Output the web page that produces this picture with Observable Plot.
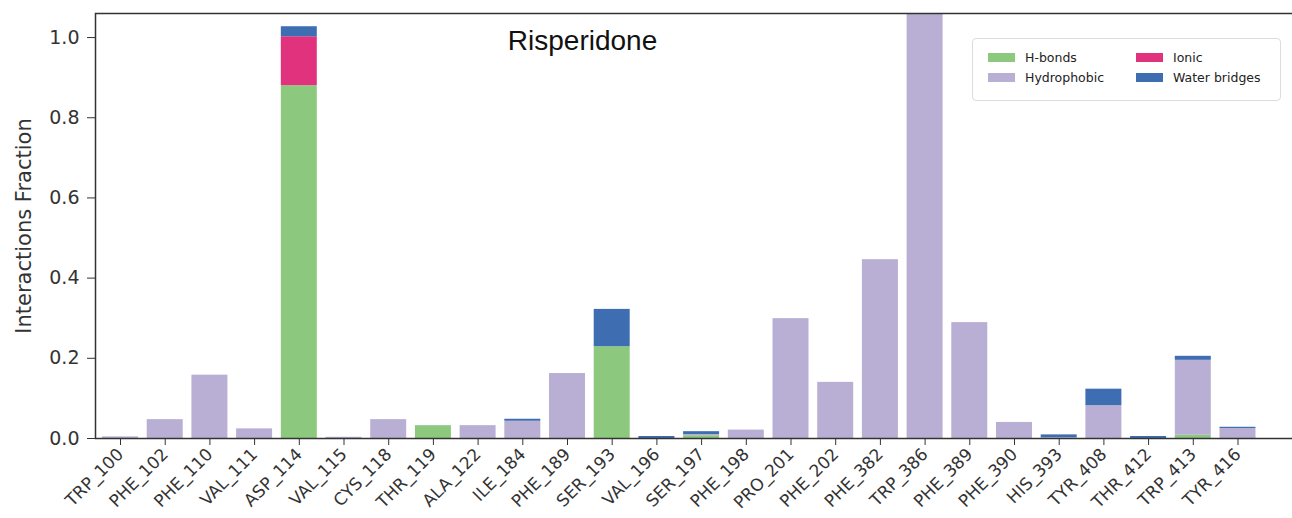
<!DOCTYPE html>
<html>
<head>
<meta charset="utf-8">
<script src="https://cdn.jsdelivr.net/npm/d3@7"></script>
<script src="https://cdn.jsdelivr.net/npm/@observablehq/plot@0.6"></script>
<style>
  html, body { margin: 0; padding: 0; background: #fff; }
  #wrap { position: relative; width: 1292px; height: 518px; }
  #legend {
    position: absolute; left: 972px; top: 38px; width: 309px; height: 63px;
    border: 1px solid #dcdcdc; border-radius: 4px; background: #fff; box-sizing: border-box;
    font-family: "DejaVu Sans", sans-serif; font-size: 12.5px; color: #222;
  }
  .item { position: absolute; display: flex; align-items: center; }
  .sw { width: 27px; height: 9px; margin-right: 10px; }
</style>
</head>
<body>
<div id="wrap"></div>
<script>
const residues = ["TRP_100","PHE_102","PHE_110","VAL_111","ASP_114","VAL_115","CYS_118","THR_119","ALA_122","ILE_184","PHE_189","SER_193","VAL_196","SER_197","PHE_198","PRO_201","PHE_202","PHE_382","TRP_386","PHE_389","PHE_390","HIS_393","TYR_408","THR_412","TRP_413","TYR_416"];
const hbonds      = [0,0,0,0,0.880,0,0,0.032,0,0,0,0.229,0,0.007,0,0,0,0,0,0,0,0,0,0,0.008,0];
const hydrophobic = [0.004,0.047,0.158,0.024,0,0.003,0.047,0,0.032,0.043,0.162,0,0,0.003,0.021,0.299,0.140,0.446,1.080,0.289,0.040,0.002,0.082,0,0.187,0.025];
const ionic       = [0,0,0,0,0.122,0,0,0,0,0,0,0,0,0,0,0,0,0,0,0,0,0,0,0,0,0];
const water       = [0,0,0,0,0.025,0,0,0,0,0.005,0,0.093,0.005,0.007,0,0,0,0,0,0,0,0.007,0.041,0.005,0.010,0.003];
const types = ["H-bonds","Hydrophobic","Ionic","Water bridges"];
const colors = ["#8cc97f","#b9aed4","#e1327d","#3e6db1"];
const yTicks = [0,0.2,0.4,0.6,0.8,1.0];

const series = [hbonds, hydrophobic, ionic, water];
const data = [];
residues.forEach((r, i) => types.forEach((t, k) => data.push({residue: r, type: t, value: series[k][i]})));

const chart = Plot.plot({
  width: 1292, height: 518,
  marginLeft: 95, marginRight: 0, marginTop: 13, marginBottom: 80,
  style: {fontFamily: "DejaVu Sans, sans-serif", color: "#333", background: "#fff"},
  x: {domain: residues, range: [95, 1262.5], paddingInner: 0.195, paddingOuter: 0.157, align: 0.5, round: false},
  y: {domain: [0, 1.06]},
  color: {domain: types, range: colors},
  marks: [
    Plot.barY(data, {x: "residue", y: "value", fill: "type", order: types, clip: true}),
    Plot.frame({stroke: "#333", strokeWidth: 1.5, insetRight: -4}),
    Plot.axisX({tickSize: 7, tickRotate: -45, fontSize: 17, tickPadding: 6, label: null, stroke: "#333", fill: "#333"}),
    Plot.axisY({ticks: yTicks, tickFormat: ".1f", tickSize: 8, tickPadding: 8, fontSize: 19, label: null, stroke: "#333", fill: "#333"}),
    Plot.text(["Interactions Fraction"], {frameAnchor: "left", dx: -65, rotate: -90, textAnchor: "middle", lineAnchor: "bottom", fontSize: 21, fill: "#333"}),
    Plot.text(["Risperidone"], {frameAnchor: "top-left", dx: 487, dy: 36, lineAnchor: "bottom", textAnchor: "middle", fontSize: 28, fontFamily: "Liberation Sans, Arial, sans-serif", fill: "#111"})
  ]
});
const wrap = document.getElementById("wrap");
wrap.appendChild(chart);

const legend = document.createElement("div");
legend.id = "legend";
const pos = [[15, 11], [15, 31], [163, 11], [163, 31]];
types.forEach((t, k) => {
  const it = document.createElement("div");
  it.className = "item";
  it.style.left = pos[k][0] + "px";
  it.style.top = pos[k][1] + "px";
  it.innerHTML = `<span class="sw" style="background:${colors[k]}"></span><span>${t}</span>`;
  legend.appendChild(it);
});
wrap.appendChild(legend);
</script>
</body>
</html>
